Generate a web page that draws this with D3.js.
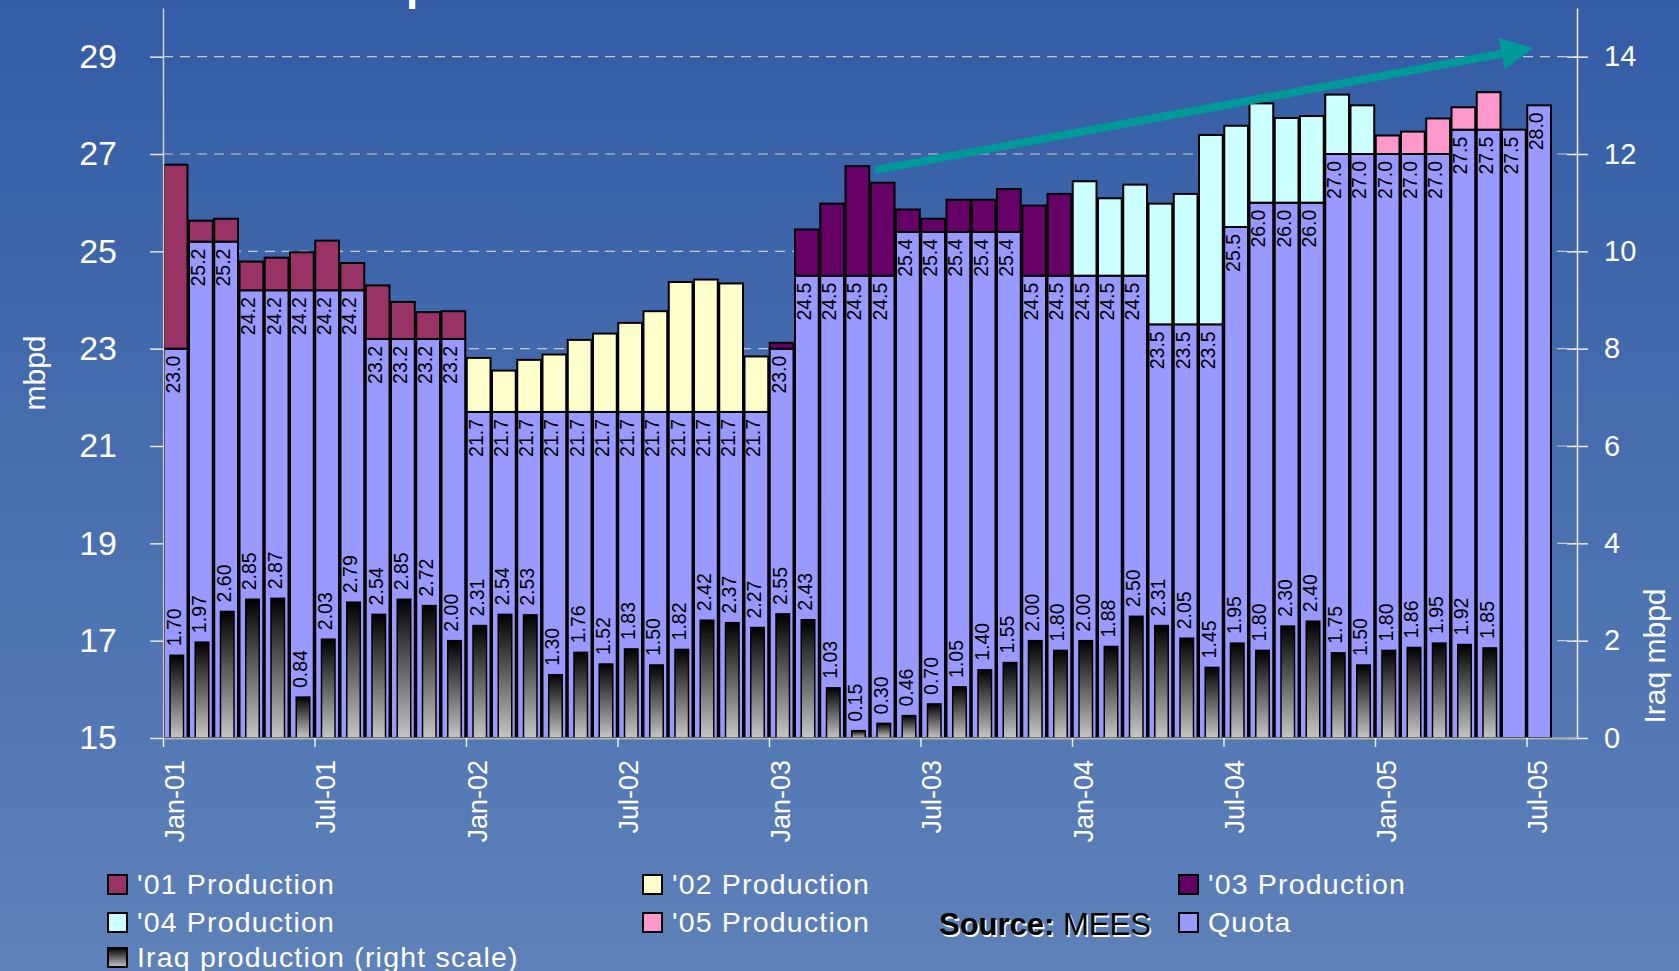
<!DOCTYPE html>
<html>
<head>
<meta charset="utf-8">
<script src="https://cdn.jsdelivr.net/npm/d3@7"></script>
<style>
  body { margin: 0; background: #3f66aa; }
  svg text { font-family: "Liberation Sans", Arial, sans-serif; }
</style>
</head>
<body>
<div id="chart"></div>
<script>
// Months on the category axis: Jan-01 .. Aug-05 (last one left empty)
const months = d3.timeMonth.range(new Date(2001, 0, 1), new Date(2005, 8, 1));
const tickLabels = ["Jan-01", "Jul-01", "Jan-02", "Jul-02", "Jan-03", "Jul-03", "Jan-04", "Jul-04", "Jan-05", "Jul-05"];
const leftTicks = [15, 17, 19, 21, 23, 25, 27, 29];
const rightTicks = [0, 2, 4, 6, 8, 10, 12, 14];

// OPEC quota, mbpd (Jan-01 .. Jul-05)
const quota = [
  23.0, 25.2, 25.2, 24.2, 24.2, 24.2, 24.2, 24.2, 23.2, 23.2, 23.2, 23.2,
  21.7, 21.7, 21.7, 21.7, 21.7, 21.7, 21.7, 21.7, 21.7, 21.7, 21.7, 21.7,
  23.0, 24.5, 24.5, 24.5, 24.5, 25.4, 25.4, 25.4, 25.4, 25.4, 24.5, 24.5,
  24.5, 24.5, 24.5, 23.5, 23.5, 23.5, 25.5, 26.0, 26.0, 26.0, 27.0, 27.0,
  27.0, 27.0, 27.0, 27.5, 27.5, 27.5, 28.0
];

// Actual production, mbpd (top of the stacked bar)
const production = [
  26.78, 25.63, 25.67, 24.79, 24.87, 24.98, 25.22, 24.76, 24.30, 23.96, 23.75, 23.77,
  22.81, 22.55, 22.77, 22.88, 23.18, 23.31, 23.53, 23.77, 24.37, 24.42, 24.34, 22.84,
  23.12, 25.45, 25.98, 26.75, 26.41, 25.86, 25.67, 26.06, 26.06, 26.28, 25.94, 26.18,
  26.44, 26.09, 26.37, 25.98, 26.18, 27.39, 27.58, 28.04, 27.74, 27.78, 28.22, 28.00,
  27.38, 27.46, 27.73, 27.96, 28.27, null, null
];

// Iraq production, mbpd (right scale)
const iraq = [
  1.70, 1.97, 2.60, 2.85, 2.87, 0.84, 2.03, 2.79, 2.54, 2.85, 2.72, 2.00,
  2.31, 2.54, 2.53, 1.30, 1.76, 1.52, 1.83, 1.50, 1.82, 2.42, 2.37, 2.27,
  2.55, 2.43, 1.03, 0.15, 0.30, 0.46, 0.70, 1.05, 1.40, 1.55, 2.00, 1.80,
  2.00, 1.88, 2.50, 2.31, 2.05, 1.45, 1.95, 1.80, 2.30, 2.40, 1.75, 1.50,
  1.80, 1.86, 1.95, 1.92, 1.85, null, null
];

const productionYears = ["'01 Production", "'02 Production", "'03 Production", "'04 Production", "'05 Production"];
const legendNames = ["'01 Production", "'02 Production", "'03 Production", "'04 Production", "'05 Production", "Quota", "Iraq production (right scale)"];

// Trend arrow, in (month index, mbpd)
const trendArrow = [[28.2, 26.67], [54.26, 29.18]];

const yearColor = d3.scaleOrdinal()
  .domain(productionYears)
  .range(["#993366", "#ffffcc", "#660066", "#ccffff", "#ff99cc"]);
const quotaColor = "#9999ff";

const width = 1679, height = 971;
const margin = { top: 8, right: 102, bottom: 233, left: 163 };

const svg = d3.select("#chart").append("svg")
  .attr("width", width)
  .attr("height", height);

const defs = svg.append("defs");
const bg = defs.append("linearGradient").attr("id", "bg")
  .attr("x1", 0).attr("y1", 0).attr("x2", 0).attr("y2", 1);
bg.append("stop").attr("offset", "0%").attr("stop-color", "#335ca5");
bg.append("stop").attr("offset", "100%").attr("stop-color", "#5e81b9");

const iraqGrad = defs.append("linearGradient").attr("id", "iraqGrad")
  .attr("x1", 0).attr("y1", 0).attr("x2", 0).attr("y2", 1);
iraqGrad.append("stop").attr("offset", "0%").attr("stop-color", "#000");
iraqGrad.append("stop").attr("offset", "100%").attr("stop-color", "#c6c6c6");

svg.append("rect").attr("width", width).attr("height", height).attr("fill", "url(#bg)");

// Title (cut off at the top of the slide)
svg.append("text")
  .attr("x", 110).attr("y", 0)
  .attr("fill", "#fff")
  .style("font-size", "44px")
  .style("font-weight", "bold")
  .text("OPEC and Iraq Production");

// Scales
const x = d3.scaleBand()
  .domain(months)
  .range([margin.left, width - margin.right]);
const xi = d3.scaleLinear()
  .domain([0, months.length])
  .range([margin.left, width - margin.right]);
const yL = d3.scaleLinear().domain([15, 30]).range([height - margin.bottom, margin.top]);
const yR = d3.scaleLinear().domain([0, 15]).range([height - margin.bottom, margin.top]);
const bw = x.bandwidth();

// Gridlines
svg.append("g")
  .selectAll("line")
  .data(leftTicks.filter(d => d > 15))
  .join("line")
  .attr("x1", margin.left).attr("x2", width - margin.right)
  .attr("y1", d => yL(d)).attr("y2", d => yL(d))
  .attr("stroke", "#c9c9c9")
  .attr("stroke-width", 1.2)
  .attr("stroke-dasharray", "10,7");

const rows = quota.map((q, i) => ({
  month: months[i],
  quota: q,
  prod: production[i],
  iraq: iraq[i],
  year: productionYears[Math.floor(i / 12)]
}));

// Quota bars
svg.append("g")
  .selectAll("rect")
  .data(rows)
  .join("rect")
  .attr("x", d => x(d.month) + 0.75)
  .attr("width", bw - 1.5)
  .attr("y", d => yL(d.quota))
  .attr("height", d => yL(15) - yL(d.quota))
  .attr("fill", quotaColor)
  .attr("stroke", "#000")
  .attr("stroke-width", 2);

// Production above quota
svg.append("g")
  .selectAll("rect")
  .data(rows.filter(d => d.prod != null))
  .join("rect")
  .attr("x", d => x(d.month) + 0.75)
  .attr("width", bw - 1.5)
  .attr("y", d => yL(d.prod))
  .attr("height", d => yL(d.quota) - yL(d.prod))
  .attr("fill", d => yearColor(d.year))
  .attr("stroke", "#000")
  .attr("stroke-width", 2);

// Quota labels
svg.append("g")
  .selectAll("text")
  .data(rows)
  .join("text")
  .attr("transform", d => `translate(${x(d.month) + bw / 2 + 4},${yL(d.quota) + 7}) rotate(-90)`)
  .attr("text-anchor", "end")
  .style("font-size", "19.5px")
  .attr("fill", "#000")
  .text(d => d3.format(".1f")(d.quota));

// Iraq bars (right scale)
const iraqRows = rows.filter(d => d.iraq != null);
svg.append("g")
  .selectAll("rect")
  .data(iraqRows)
  .join("rect")
  .attr("x", d => x(d.month) + 7)
  .attr("width", 13.5)
  .attr("y", d => yR(d.iraq))
  .attr("height", d => yR(0) - yR(d.iraq))
  .attr("fill", "url(#iraqGrad)")
  .attr("stroke", "#000")
  .attr("stroke-width", 1.5);

svg.append("g")
  .selectAll("text")
  .data(iraqRows)
  .join("text")
  .attr("transform", d => `translate(${x(d.month) + bw / 2 + 5},${yR(d.iraq) - 9}) rotate(-90)`)
  .attr("text-anchor", "start")
  .style("font-size", "19.5px")
  .attr("fill", "#000")
  .text(d => d3.format(".2f")(d.iraq));

// Left axis
const axL = svg.append("g")
  .attr("transform", `translate(${margin.left},0)`)
  .call(d3.axisLeft(yL).tickValues(leftTicks).tickSize(13).tickSizeOuter(0).tickPadding(33));
axL.select(".domain").attr("stroke", "#d0d0d0").attr("stroke-width", 1.5);
axL.selectAll(".tick line").attr("stroke", "#e6e6e6").attr("stroke-width", 1.5);
axL.selectAll(".tick text").attr("fill", "#fff").style("font-size", "34px");

// Right axis
const axR = svg.append("g")
  .attr("transform", `translate(${width - margin.right},0)`)
  .call(d3.axisRight(yR).tickValues(rightTicks).tickSize(11).tickSizeOuter(0).tickPadding(16));
axR.select(".domain").attr("stroke", "#eeeeee").attr("stroke-width", 1.5);
axR.selectAll(".tick line").attr("x1", -10).attr("stroke", "#eeeeee").attr("stroke-width", 1.5);
axR.selectAll(".tick text").attr("fill", "#fff").style("font-size", "29px");

// Bottom axis: ticks at the start of Jan / Jul
const fmt = d3.timeFormat("%b-%y");
const tickIdx = months.map((m, i) => i).filter(i => tickLabels.includes(fmt(months[i])));
const axB = svg.append("g")
  .attr("transform", `translate(0,${yL(15)})`)
  .call(d3.axisBottom(xi).tickValues(tickIdx).tickFormat(i => fmt(months[i])).tickSize(9).tickSizeOuter(0));
axB.select(".domain").attr("stroke", "#b4b4b4").attr("stroke-width", 2);
axB.selectAll(".tick line").attr("stroke", "#eeeeee").attr("stroke-width", 1.5);
axB.selectAll(".tick text")
  .attr("fill", "#fff")
  .style("font-size", "27px")
  .attr("text-anchor", "end")
  .attr("transform", "rotate(-90)")
  .attr("x", -22)
  .attr("y", 20)
  .attr("dy", 0);

// Axis titles
svg.append("text")
  .attr("transform", `translate(45,${(yL(15) + yL(30)) / 2}) rotate(-90)`)
  .attr("text-anchor", "middle")
  .attr("fill", "#fff")
  .style("font-size", "30px")
  .text("mbpd");

svg.append("text")
  .attr("transform", `translate(1665,656) rotate(-90)`)
  .attr("text-anchor", "middle")
  .attr("fill", "#fff")
  .style("font-size", "30px")
  .text("Iraq mbpd");

// Trend arrow
const [a0, a1] = trendArrow.map(([m, v]) => [xi(m), yL(v)]);
const ang = Math.atan2(a1[1] - a0[1], a1[0] - a0[0]);
const headLen = 32, headHalf = 16;
const base = [a1[0] - headLen * Math.cos(ang), a1[1] - headLen * Math.sin(ang)];
svg.append("line")
  .attr("x1", a0[0]).attr("y1", a0[1])
  .attr("x2", base[0]).attr("y2", base[1])
  .attr("stroke", "#009999")
  .attr("stroke-width", 8);
svg.append("path")
  .attr("d", d3.line()([
    a1,
    [base[0] + headHalf * Math.sin(ang), base[1] - headHalf * Math.cos(ang)],
    [base[0] - headHalf * Math.sin(ang), base[1] + headHalf * Math.cos(ang)]
  ]) + "Z")
  .attr("fill", "#009999");

// Legend
const legend = svg.append("g");
const colX = [108, 643, 1179];
const rowY = [875, 913, 948];
legendNames.forEach((name, i) => {
  const gx = colX[i % 3], gy = rowY[Math.floor(i / 3)];
  const fill = name === "Quota" ? quotaColor
    : name.startsWith("Iraq") ? "url(#iraqGrad)"
    : yearColor(name);
  legend.append("rect")
    .attr("x", gx).attr("y", gy)
    .attr("width", 19).attr("height", 19)
    .attr("fill", fill)
    .attr("stroke", "#000")
    .attr("stroke-width", 2);
  legend.append("text")
    .attr("x", gx + 29).attr("y", gy + 18.5)
    .attr("fill", "#fff")
    .style("font-size", "28.5px")
    .style("letter-spacing", "1.2px")
    .text(name);
});

// Source note (black with white shadow)
[["#fff", 1.5], ["#000", 0]].forEach(([c, off]) => {
  const t = svg.append("text")
    .attr("x", 939 + off).attr("y", 935 + off)
    .attr("fill", c)
    .style("font-size", "31px");
  t.append("tspan").style("font-weight", "bold").text("Source:");
  t.append("tspan").text(" MEES");
});
</script>
</body>
</html>
